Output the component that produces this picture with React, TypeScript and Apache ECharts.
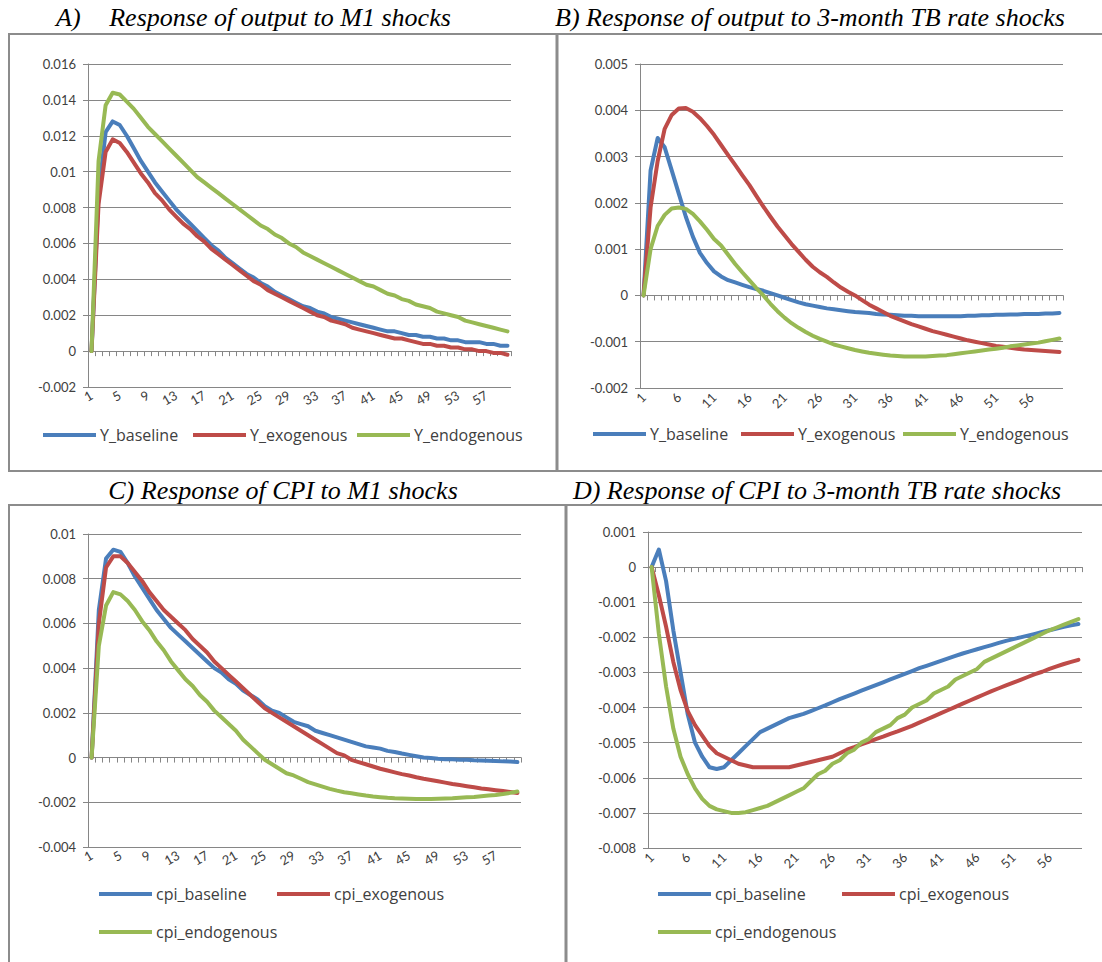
import React, { useEffect, useRef } from "react";
import * as echarts from "echarts";

const categories: string[] = Array.from({ length: 60 }, (_, i) => String(i + 1));

// Panel A: output response to M1 shocks
const A_base = [0, 0.0088, 0.0122, 0.0128, 0.0126, 0.012, 0.0113, 0.0106, 0.01, 0.0094, 0.0089, 0.0084, 0.0079, 0.0075, 0.0071, 0.0067, 0.0063, 0.0059, 0.0056, 0.0052, 0.0049, 0.0046, 0.0043, 0.0041, 0.0038, 0.0036, 0.0033, 0.0031, 0.0029, 0.0027, 0.0025, 0.0024, 0.0022, 0.0021, 0.0019, 0.0018, 0.0017, 0.0016, 0.0015, 0.0014, 0.0013, 0.0012, 0.0011, 0.0011, 0.001, 0.0009, 0.0009, 0.0008, 0.0008, 0.0007, 0.0007, 0.0006, 0.0006, 0.0005, 0.0005, 0.0005, 0.0004, 0.0004, 0.0003, 0.0003];
const A_exo = [0, 0.0082, 0.0111, 0.0118, 0.0116, 0.0111, 0.0105, 0.0099, 0.0094, 0.0088, 0.0084, 0.0079, 0.0075, 0.0071, 0.0068, 0.0064, 0.0061, 0.0057, 0.0054, 0.0051, 0.0048, 0.0045, 0.0042, 0.0039, 0.0037, 0.0034, 0.0032, 0.003, 0.0028, 0.0026, 0.0024, 0.0022, 0.002, 0.0019, 0.0017, 0.0016, 0.0015, 0.0013, 0.0012, 0.0011, 0.001, 0.0009, 0.0008, 0.0007, 0.0007, 0.0006, 0.0005, 0.0004, 0.0004, 0.0003, 0.0003, 0.0002, 0.0002, 0.0001, 0.0001, 0, 0, -0.0001, -0.0001, -0.0002];
const A_endo = [0, 0.0106, 0.0137, 0.0144, 0.0143, 0.0139, 0.0135, 0.013, 0.0125, 0.0121, 0.0117, 0.0113, 0.0109, 0.0105, 0.0101, 0.0097, 0.0094, 0.0091, 0.0088, 0.0085, 0.0082, 0.0079, 0.0076, 0.0073, 0.007, 0.0068, 0.0065, 0.0063, 0.006, 0.0058, 0.0055, 0.0053, 0.0051, 0.0049, 0.0047, 0.0045, 0.0043, 0.0041, 0.0039, 0.0037, 0.0036, 0.0034, 0.0032, 0.0031, 0.0029, 0.0028, 0.0026, 0.0025, 0.0024, 0.0022, 0.0021, 0.002, 0.0019, 0.0017, 0.0016, 0.0015, 0.0014, 0.0013, 0.0012, 0.0011];

// Panel B: output response to 3-month TB rate shocks
const B_base = [0, 0.0027, 0.0034, 0.0032, 0.0027, 0.0022, 0.0017, 0.00127, 0.00092, 0.0007, 0.00052, 0.00041, 0.00033, 0.00028, 0.00023, 0.00018, 0.00014, 0.0001, 0.00005, 0, -0.00005, -0.0001, -0.00015, -0.00019, -0.00022, -0.00025, -0.00028, -0.0003, -0.00032, -0.00034, -0.00036, -0.00037, -0.00038, -0.0004, -0.00041, -0.00042, -0.00043, -0.00044, -0.00044, -0.00045, -0.00045, -0.00045, -0.00045, -0.00045, -0.00045, -0.00045, -0.00044, -0.00044, -0.00043, -0.00043, -0.00042, -0.00042, -0.00041, -0.00041, -0.0004, -0.0004, -0.0004, -0.00039, -0.00039, -0.00038];
const B_exo = [0, 0.0019, 0.0029, 0.0036, 0.0039, 0.00404, 0.00405, 0.00397, 0.00383, 0.00366, 0.00347, 0.00325, 0.00303, 0.00282, 0.0026, 0.00239, 0.00215, 0.00192, 0.0017, 0.00149, 0.0013, 0.00111, 0.00094, 0.00077, 0.00062, 0.0005, 0.0004, 0.00028, 0.00017, 0.00008, 0, -0.0001, -0.0002, -0.00028, -0.00036, -0.00044, -0.0005, -0.00056, -0.00062, -0.00067, -0.00072, -0.00077, -0.00081, -0.00085, -0.00089, -0.00093, -0.00097, -0.001, -0.00103, -0.00106, -0.00109, -0.00111, -0.00113, -0.00115, -0.00117, -0.00118, -0.00119, -0.0012, -0.00121, -0.00122];
const B_endo = [0, 0.001, 0.0015, 0.00174, 0.00188, 0.0019, 0.00187, 0.00176, 0.0016, 0.00142, 0.00122, 0.00108, 0.00088, 0.00068, 0.0005, 0.00033, 0.00016, 0, -0.00018, -0.00034, -0.00048, -0.0006, -0.0007, -0.00079, -0.00087, -0.00094, -0.001, -0.00106, -0.0011, -0.00114, -0.00118, -0.00121, -0.00124, -0.00126, -0.00128, -0.0013, -0.00131, -0.00132, -0.00132, -0.00132, -0.00132, -0.00131, -0.0013, -0.00129, -0.00127, -0.00125, -0.00123, -0.00121, -0.00119, -0.00117, -0.00115, -0.00113, -0.0011, -0.00108, -0.00106, -0.00104, -0.00102, -0.00099, -0.00096, -0.00093];

// Panel C: CPI response to M1 shocks
const C_base = [0, 0.0066, 0.0089, 0.0093, 0.0092, 0.0087, 0.0081, 0.0076, 0.0071, 0.0066, 0.0062, 0.0058, 0.0055, 0.0052, 0.0049, 0.0046, 0.0043, 0.004, 0.0038, 0.0035, 0.0033, 0.003, 0.0028, 0.0026, 0.0023, 0.0021, 0.002, 0.0018, 0.0016, 0.0015, 0.0014, 0.0012, 0.0011, 0.001, 0.0009, 0.0008, 0.0007, 0.0006, 0.0005, 0.00045, 0.0004, 0.0003, 0.00025, 0.00018, 0.00012, 0.00006, 0, -0.00002, -0.00005, -0.00007, -0.00008, -0.0001, -0.0001, -0.00012, -0.00013, -0.00014, -0.00015, -0.00017, -0.00018, -0.0002];
const C_exo = [0, 0.006, 0.0085, 0.009, 0.009, 0.0087, 0.0083, 0.0079, 0.0074, 0.007, 0.0066, 0.0063, 0.006, 0.0057, 0.0053, 0.005, 0.0047, 0.0043, 0.004, 0.0037, 0.0034, 0.0031, 0.0028, 0.0025, 0.0022, 0.002, 0.0018, 0.0016, 0.0014, 0.0012, 0.001, 0.0008, 0.0006, 0.0004, 0.0002, 0.0001, -0.0001, -0.0002, -0.0003, -0.0004, -0.0005, -0.00058, -0.00066, -0.00074, -0.0008, -0.00088, -0.00095, -0.001, -0.00106, -0.00112, -0.00118, -0.00123, -0.00128, -0.00133, -0.00138, -0.00142, -0.00146, -0.0015, -0.00154, -0.00158];
const C_endo = [0, 0.005, 0.0068, 0.0074, 0.0073, 0.007, 0.0066, 0.0061, 0.0057, 0.0052, 0.0048, 0.0043, 0.0039, 0.0035, 0.0032, 0.0028, 0.0025, 0.0021, 0.0018, 0.0015, 0.0012, 0.0008, 0.0005, 0.0002, -0.0001, -0.0003, -0.0005, -0.0007, -0.0008, -0.00095, -0.0011, -0.0012, -0.0013, -0.0014, -0.00148, -0.00155, -0.0016, -0.00165, -0.0017, -0.00174, -0.00177, -0.0018, -0.00182, -0.00183, -0.00184, -0.00185, -0.00185, -0.00185, -0.00184, -0.00183, -0.00182, -0.0018, -0.00178, -0.00176, -0.00173, -0.0017, -0.00167, -0.00163, -0.00158, -0.00152];

// Panel D: CPI response to 3-month TB rate shocks
const D_base = [0, 0.0005, -0.0004, -0.0018, -0.003, -0.0042, -0.005, -0.0054, -0.0057, -0.00575, -0.0057, -0.0055, -0.0053, -0.0051, -0.0049, -0.0047, -0.0046, -0.0045, -0.0044, -0.0043, -0.00424, -0.00418, -0.0041, -0.00402, -0.00394, -0.00385, -0.00376, -0.00368, -0.0036, -0.00352, -0.00344, -0.00336, -0.00328, -0.0032, -0.00312, -0.00304, -0.00296, -0.00288, -0.00281, -0.00274, -0.00267, -0.0026, -0.00253, -0.00246, -0.0024, -0.00234, -0.00228, -0.00222, -0.00216, -0.0021, -0.00205, -0.002, -0.00195, -0.0019, -0.00185, -0.0018, -0.00175, -0.0017, -0.00166, -0.00162];
const D_exo = [0, -0.0008, -0.0017, -0.0027, -0.0035, -0.0041, -0.0045, -0.0048, -0.0051, -0.0053, -0.0054, -0.0055, -0.0056, -0.00565, -0.0057, -0.0057, -0.0057, -0.0057, -0.0057, -0.0057, -0.00565, -0.0056, -0.00555, -0.0055, -0.00545, -0.0054, -0.0053, -0.0052, -0.00513, -0.00505, -0.00498, -0.0049, -0.00483, -0.00475, -0.00468, -0.0046, -0.00452, -0.00443, -0.00434, -0.00425, -0.00416, -0.00407, -0.00398, -0.00389, -0.0038, -0.00371, -0.00362, -0.00353, -0.00345, -0.00337, -0.00329, -0.00321, -0.00313, -0.00305, -0.00298, -0.0029, -0.00283, -0.00276, -0.0027, -0.00264];
const D_endo = [0, -0.0019, -0.0034, -0.0046, -0.0054, -0.0059, -0.0063, -0.0066, -0.0068, -0.0069, -0.00695, -0.007, -0.007, -0.00698, -0.00692, -0.00686, -0.0068, -0.0067, -0.0066, -0.0065, -0.0064, -0.0063, -0.0061, -0.0059, -0.0058, -0.0056, -0.0055, -0.0053, -0.0052, -0.005, -0.0049, -0.0047, -0.0046, -0.0045, -0.0043, -0.0042, -0.004, -0.0039, -0.0038, -0.0036, -0.0035, -0.0034, -0.0032, -0.0031, -0.003, -0.0029, -0.0027, -0.0026, -0.0025, -0.0024, -0.0023, -0.0022, -0.0021, -0.002, -0.0019, -0.0018, -0.00172, -0.00164, -0.00156, -0.00148];

const Y_names = ["Y_baseline", "Y_exogenous", "Y_endogenous"];
const CPI_names = ["cpi_baseline", "cpi_exogenous", "cpi_endogenous"];

const FONT = "Lato, 'Open Sans', sans-serif";
const LEGEND_FONT = "'Open Sans', Lato, sans-serif";
const SERIF = "'Liberation Serif', 'DejaVu Serif', serif";
const GRAY = "#868686";
const BORDER = "#8c8c8c";
const TEXT = "#404040";
const COLORS = ["#4A7EBB", "#BE4B48", "#98B954"];

type Panel = {
  grid: { left: number; top: number; width: number; height: number };
  min: number;
  max: number;
  interval: number;
  labelInterval: number;
  rotate: number;
  names: string[];
  data: number[][];
  legend: { left: number; top: number }[];
};

const panels: Panel[] = [
  {
    grid: { left: 88, top: 64, width: 423, height: 323 },
    min: -0.002, max: 0.016, interval: 0.002, labelInterval: 3, rotate: 30,
    names: Y_names, data: [A_base, A_exo, A_endo],
    legend: [{ left: 43, top: 427 }, { left: 193, top: 427 }, { left: 357, top: 427 }],
  },
  {
    grid: { left: 640, top: 64, width: 423, height: 324 },
    min: -0.002, max: 0.005, interval: 0.001, labelInterval: 4, rotate: 45,
    names: Y_names, data: [B_base, B_exo, B_endo],
    legend: [{ left: 593, top: 426 }, { left: 741, top: 426 }, { left: 903, top: 426 }],
  },
  {
    grid: { left: 88, top: 534, width: 433, height: 313 },
    min: -0.004, max: 0.01, interval: 0.002, labelInterval: 3, rotate: 30,
    names: CPI_names, data: [C_base, C_exo, C_endo],
    legend: [{ left: 99, top: 886 }, { left: 277, top: 886 }, { left: 99, top: 924 }],
  },
  {
    grid: { left: 648, top: 532, width: 434, height: 316 },
    min: -0.008, max: 0.001, interval: 0.001, labelInterval: 4, rotate: 45,
    names: CPI_names, data: [D_base, D_exo, D_endo],
    legend: [{ left: 658, top: 886 }, { left: 842, top: 886 }, { left: 658, top: 924 }],
  },
];

function fmt(v: number): string {
  return String(Number(v.toFixed(4)));
}

function buildOption() {
  const grid: any[] = [];
  const xAxis: any[] = [];
  const yAxis: any[] = [];
  const series: any[] = [];
  const legend: any[] = [];

  panels.forEach((p, i) => {
    grid.push({ ...p.grid, containLabel: false });
    xAxis.push({
      type: "category",
      gridIndex: i,
      data: categories,
      boundaryGap: true,
      axisLine: { show: true, onZero: true, lineStyle: { color: GRAY, width: 1 } },
      axisTick: { show: true, interval: 0, length: 5, lineStyle: { color: GRAY } },
      axisLabel: {
        interval: p.labelInterval,
        rotate: p.rotate,
        fontSize: 13,
        fontFamily: FONT,
        color: TEXT,
        margin: 7,
      },
      splitLine: { show: false },
    });
    yAxis.push({
      type: "value",
      gridIndex: i,
      min: p.min,
      max: p.max,
      interval: p.interval,
      axisLine: { show: true, lineStyle: { color: GRAY, width: 1 } },
      axisTick: { show: true, length: 5, lineStyle: { color: GRAY } },
      axisLabel: { formatter: fmt, fontSize: 13, fontFamily: FONT, color: TEXT, margin: 12 },
      splitLine: { show: true, lineStyle: { color: GRAY, width: 1 } },
    });
    p.names.forEach((name, k) => {
      series.push({
        type: "line",
        name,
        xAxisIndex: i,
        yAxisIndex: i,
        data: p.data[k],
        showSymbol: false,
        symbol: "none",
        smooth: false,
        lineStyle: { width: 4, color: COLORS[k], cap: "round", join: "round" },
        itemStyle: { color: COLORS[k] },
        z: 2 + k,
      });
      legend.push({
        data: [name],
        left: p.legend[k].left,
        top: p.legend[k].top,
        orient: "horizontal",
        padding: 0,
        icon: "rect",
        itemWidth: 53,
        itemHeight: 4,
        itemGap: 0,
        selectedMode: false,
        textStyle: { fontSize: 16, fontFamily: LEGEND_FONT, color: TEXT, padding: [0, 0, 0, -1] },
      });
    });
  });

  const line = (x1: number, y1: number, x2: number, y2: number, w = 2) => ({
    type: "line",
    shape: { x1, y1, x2, y2 },
    style: { stroke: BORDER, lineWidth: w },
    silent: true,
  });
  const title = (text: string, x: number, y: number, align = "center") => ({
    type: "text",
    x,
    y,
    style: {
      text,
      fontSize: 26,
      fontStyle: "italic",
      fontFamily: SERIF,
      fill: "#000",
      textAlign: align,
      textVerticalAlign: "middle",
    },
    silent: true,
  });

  const graphic = [
    line(9, 34, 1102, 34),
    line(9, 33, 9, 472),
    line(557, 34, 557, 472, 3),
    line(9, 471, 1102, 471),
    line(9, 505, 1102, 505),
    line(9, 504, 9, 962),
    line(566, 505, 566, 962, 3),
    title("A)", 56, 17, "left"),
    title("Response of output to M1 shocks", 280, 17),
    title("B) Response of output to 3-month TB rate shocks", 810, 17),
    title("C) Response of CPI to M1 shocks", 283, 490),
    title("D) Response of CPI to 3-month TB rate shocks", 817, 490),
  ];

  return {
    animation: false,
    backgroundColor: "#ffffff",
    grid,
    xAxis,
    yAxis,
    series,
    legend,
    graphic,
  };
}

export default function App() {
  const ref = useRef<HTMLDivElement>(null);
  useEffect(() => {
    document.body.style.margin = "0";
    if (!ref.current) return;
    const chart = echarts.init(ref.current, undefined, { renderer: "svg" });
    chart.setOption(buildOption() as any);
    return () => chart.dispose();
  }, []);
  return (
    <div
      ref={ref}
      style={{ position: "absolute", left: 0, top: 0, width: 1102, height: 962, background: "#fff" }}
    />
  );
}
